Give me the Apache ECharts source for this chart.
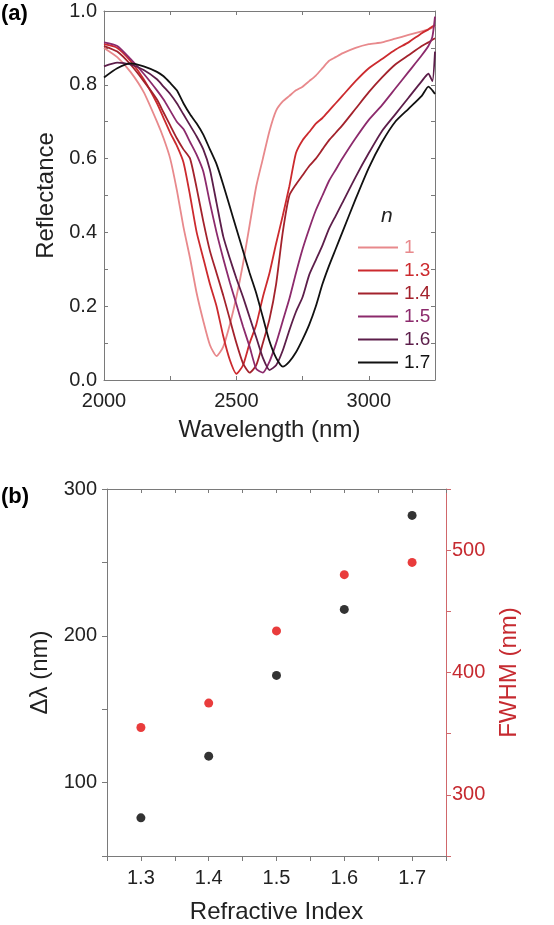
<!DOCTYPE html>
<html>
<head>
<meta charset="utf-8">
<script src="https://cdn.jsdelivr.net/npm/echarts@6/dist/echarts.min.js"></script>
<style>
  html, body { margin: 0; padding: 0; background: #fff; }
  #chart { width: 554px; height: 925px; }
</style>
</head>
<body>
<div id="chart"></div>
<script>
// (a) reflectance spectra
var wavelength = [2000, 2050, 2100, 2150, 2200,
  2225, 2250, 2275, 2300, 2325, 2350, 2375, 2400, 2425, 2450, 2475, 2500, 2525, 2550,
  2575, 2600, 2625, 2650, 2675, 2700, 2725, 2750, 2775, 2800, 2825, 2850, 2875, 2900,
  2950, 3000, 3050, 3100, 3150, 3200, 3225, 3240, 3250];

var refl_1 = [0.90, 0.875, 0.835, 0.78, 0.70,
  0.655, 0.60, 0.515, 0.415, 0.33, 0.235, 0.16, 0.095, 0.065, 0.09, 0.15, 0.225, 0.315, 0.42,
  0.525, 0.60, 0.675, 0.73, 0.755, 0.77, 0.785, 0.795, 0.81, 0.825, 0.845, 0.865, 0.875, 0.885,
  0.90, 0.91, 0.915, 0.925, 0.935, 0.945, 0.95, 0.955, 0.96];
var refl_13 = [0.91, 0.90, 0.865, 0.815, 0.75,
  0.71, 0.67, 0.635, 0.59, 0.50, 0.40, 0.33, 0.26, 0.20, 0.12, 0.055, 0.017, 0.04, 0.10,
  0.15, 0.225, 0.29, 0.37, 0.445, 0.525, 0.615, 0.65, 0.672, 0.695, 0.71, 0.73, 0.75, 0.77,
  0.81, 0.845, 0.87, 0.895, 0.915, 0.94, 0.95, 0.958, 0.962];
var refl_14 = [0.905, 0.89, 0.855, 0.81, 0.76,
  0.725, 0.69, 0.655, 0.625, 0.60, 0.52, 0.43, 0.35, 0.29, 0.23, 0.165, 0.10, 0.045, 0.02,
  0.04, 0.10, 0.165, 0.26, 0.40, 0.50, 0.53, 0.555, 0.58, 0.60, 0.625, 0.65, 0.67, 0.69,
  0.735, 0.78, 0.82, 0.855, 0.88, 0.905, 0.915, 0.922, 0.926];
var refl_15 = [0.915, 0.905, 0.87, 0.83, 0.785,
  0.76, 0.73, 0.70, 0.68, 0.645, 0.61, 0.565, 0.48, 0.40, 0.33, 0.265, 0.205, 0.145, 0.09,
  0.03, 0.02, 0.05, 0.10, 0.16, 0.22, 0.29, 0.355, 0.41, 0.46, 0.50, 0.54, 0.57, 0.60,
  0.655, 0.705, 0.745, 0.79, 0.835, 0.88, 0.905, 0.93, 0.985];
var refl_16 = [0.85, 0.86, 0.855, 0.84, 0.815,
  0.795, 0.775, 0.75, 0.72, 0.69, 0.66, 0.625, 0.57, 0.48, 0.39, 0.33, 0.275, 0.225, 0.17,
  0.115, 0.06, 0.027, 0.04, 0.08, 0.135, 0.185, 0.225, 0.285, 0.325, 0.365, 0.41, 0.445, 0.48,
  0.55, 0.615, 0.675, 0.72, 0.765, 0.81, 0.83, 0.81, 0.89];
var refl_17 = [0.82, 0.845, 0.858, 0.85, 0.835,
  0.823, 0.805, 0.785, 0.75, 0.72, 0.695, 0.665, 0.625, 0.585, 0.53, 0.47, 0.41, 0.35, 0.29,
  0.235, 0.17, 0.105, 0.06, 0.036, 0.05, 0.075, 0.11, 0.15, 0.20, 0.26, 0.31, 0.355, 0.40,
  0.49, 0.575, 0.645, 0.70, 0.735, 0.77, 0.795, 0.785, 0.775];

var curveNames = ['1', '1.3', '1.4', '1.5', '1.6', '1.7'];
var curveColors = ['#e8898c', '#cc2a2e', '#a3222c', '#8c2a6c', '#5c1e4a', '#111111'];

// (b) shift and width against refractive index
var refIndex = [1.3, 1.4, 1.5, 1.6, 1.7];
var deltaLambda = [76, 118, 173, 218, 282];
var fwhm = [355, 375, 434, 480, 490];

var FONT = 'Liberation Sans, Arial, sans-serif';
var frame = '#7a7a7a';
var red = '#c62a30';

function zip(xs, ys) {
  return xs.map(function (x, i) { return [x, ys[i]]; });
}

var curves = [refl_1, refl_13, refl_14, refl_15, refl_16, refl_17];
var lineSeries = curves.map(function (ys, i) {
  return {
    name: curveNames[i],
    type: 'line',
    xAxisIndex: 0,
    yAxisIndex: 0,
    data: zip(wavelength, ys),
    showSymbol: false,
    symbol: 'none',
    smooth: 0.2,
    lineStyle: { color: curveColors[i], width: 1.8 },
    itemStyle: { color: curveColors[i] },
    z: 2 + i
  };
});

function frameAxis(extra) {
  var base = {
    axisLine: { show: true, onZero: false, lineStyle: { color: frame, width: 1 } },
    axisTick: { show: true, inside: true, length: 4, lineStyle: { color: frame } },
    axisLabel: { show: false },
    splitLine: { show: false }
  };
  return Object.assign(base, extra);
}

var chart = echarts.init(document.getElementById('chart'));
chart.setOption({
  animation: false,
  backgroundColor: '#fff',
  textStyle: { fontFamily: FONT },
  grid: [
    { left: 104, top: 11, width: 331, height: 369 },
    { left: 107, top: 489, width: 339, height: 369 }
  ],
  legend: {
    orient: 'vertical',
    left: 353,
    top: 231,
    icon: 'rect',
    itemWidth: 40,
    itemHeight: 2,
    itemGap: 0,
    textStyle: { fontSize: 19, lineHeight: 23, fontFamily: FONT, padding: [0, 0, 0, 1] },
    data: curveNames.map(function (n, i) {
      return { name: n, textStyle: { color: curveColors[i] } };
    })
  },
  xAxis: [
    frameAxis({
      type: 'value', gridIndex: 0, min: 2000, max: 3250, interval: 250,
      name: 'Wavelength (nm)', nameLocation: 'middle', nameGap: 38,
      nameTextStyle: { fontSize: 24, color: '#222', fontFamily: FONT },
      axisLabel: {
        show: true, fontSize: 20, color: '#222', margin: 11, fontFamily: FONT,
        formatter: function (v) { return v % 500 === 0 ? String(v) : ''; }
      }
    }),
    frameAxis({ type: 'value', gridIndex: 0, position: 'top', min: 2000, max: 3250, interval: 250 }),
    frameAxis({
      type: 'value', gridIndex: 1, min: 1.25, max: 1.75, interval: 0.05,
      name: 'Refractive Index', nameLocation: 'middle', nameGap: 44,
      nameTextStyle: { fontSize: 24, color: '#222', fontFamily: FONT },
      axisTick: { show: true, inside: false, length: 5, lineStyle: { color: frame } },
      axisLabel: {
        show: true, fontSize: 20, color: '#222', margin: 12, fontFamily: FONT,
        formatter: function (v) { return Math.round(v * 100) % 10 === 0 ? v.toFixed(1) : ''; }
      }
    }),
    frameAxis({ type: 'value', gridIndex: 1, position: 'top', min: 1.25, max: 1.75, interval: 0.05 })
  ],
  yAxis: [
    frameAxis({
      type: 'value', gridIndex: 0, min: 0, max: 1, interval: 0.1,
      name: 'Reflectance', nameLocation: 'middle', nameGap: 43,
      nameTextStyle: { fontSize: 24, color: '#222', fontFamily: FONT },
      axisLabel: {
        show: true, fontSize: 20, color: '#222', margin: 7, fontFamily: FONT,
        formatter: function (v) { return Math.round(v * 10) % 2 === 0 ? v.toFixed(1) : ''; }
      }
    }),
    frameAxis({ type: 'value', gridIndex: 0, position: 'right', min: 0, max: 1, interval: 0.1 }),
    frameAxis({
      type: 'value', gridIndex: 1, min: 50, max: 300, interval: 50,
      name: 'Δλ (nm)', nameLocation: 'middle', nameGap: 52,
      nameTextStyle: { fontSize: 24, color: '#222', fontFamily: FONT },
      axisTick: { show: true, inside: false, length: 5, lineStyle: { color: frame } },
      axisLabel: {
        show: true, fontSize: 20, color: '#222', margin: 10, fontFamily: FONT,
        formatter: function (v) { return v % 100 === 0 ? String(v) : ''; }
      }
    }),
    frameAxis({
      type: 'value', gridIndex: 1, position: 'right', min: 250, max: 550, interval: 50,
      name: 'FWHM (nm)', nameLocation: 'middle', nameGap: 51, nameRotate: 90,
      nameTextStyle: { fontSize: 24, color: red, fontFamily: FONT },
      axisLine: { show: true, onZero: false, lineStyle: { color: '#d0676b', width: 1 } },
      axisTick: { show: true, inside: false, length: 5, lineStyle: { color: '#d0676b' } },
      axisLabel: {
        show: true, fontSize: 20, color: red, margin: 6, fontFamily: FONT,
        formatter: function (v) { return v % 100 === 0 ? String(v) : ''; }
      }
    })
  ],
  graphic: [
    { type: 'text', left: 1, top: 3, style: { text: '(a)', font: 'bold 22px ' + FONT, fill: '#000' } },
    { type: 'text', left: 1, top: 486, style: { text: '(b)', font: 'bold 22px ' + FONT, fill: '#000' } },
    { type: 'text', left: 381, top: 206, style: { text: 'n', font: 'italic 21px ' + FONT, fill: '#222' } }
  ],
  series: lineSeries.concat([
    {
      name: 'dl', type: 'scatter', xAxisIndex: 2, yAxisIndex: 2,
      data: zip(refIndex, deltaLambda), symbolSize: 9,
      itemStyle: { color: '#000' }
    },
    {
      name: 'fwhm', type: 'scatter', xAxisIndex: 2, yAxisIndex: 3,
      data: zip(refIndex, fwhm), symbolSize: 9,
      itemStyle: { color: '#e30b0b' }
    }
  ])
});
</script>
</body>
</html>
